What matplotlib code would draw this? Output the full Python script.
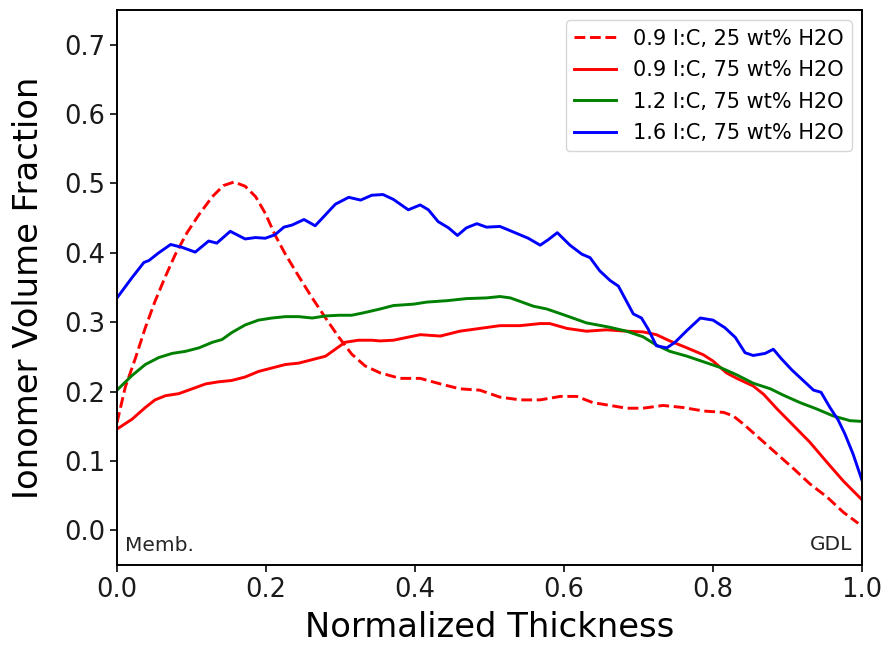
import matplotlib
matplotlib.use("Agg")
import matplotlib.pyplot as plt

# 0.9 I:C, 25 wt% H2O (dashed red)
x_r25 = [0.0, 0.011, 0.025, 0.038, 0.051, 0.065, 0.078, 0.094, 0.110, 0.128, 0.143, 0.157,
         0.172, 0.186, 0.199, 0.212, 0.226, 0.244, 0.262, 0.280, 0.298, 0.315, 0.333, 0.353,
         0.380, 0.407, 0.434, 0.460, 0.487, 0.514, 0.541, 0.568, 0.595, 0.617, 0.639, 0.662,
         0.684, 0.706, 0.733, 0.760, 0.787, 0.814, 0.827, 0.841, 0.863, 0.886, 0.908, 0.930,
         0.953, 0.975, 0.995]
y_r25 = [0.155, 0.206, 0.249, 0.292, 0.330, 0.366, 0.397, 0.429, 0.455, 0.481, 0.497, 0.502,
         0.496, 0.481, 0.457, 0.426, 0.398, 0.366, 0.335, 0.306, 0.278, 0.254, 0.237, 0.227,
         0.219, 0.219, 0.211, 0.204, 0.202, 0.192, 0.188, 0.188, 0.193, 0.193, 0.184, 0.180,
         0.176, 0.176, 0.180, 0.177, 0.172, 0.170, 0.165, 0.153, 0.132, 0.110, 0.089, 0.067,
         0.048, 0.026, 0.010]

# 0.9 I:C, 75 wt% H2O (solid red)
x_r75 = [0.0, 0.020, 0.038, 0.051, 0.065, 0.083, 0.101, 0.119, 0.136, 0.154, 0.172, 0.190,
         0.208, 0.226, 0.244, 0.262, 0.280, 0.293, 0.306, 0.324, 0.342, 0.353, 0.371, 0.389,
         0.407, 0.434, 0.460, 0.487, 0.514, 0.541, 0.568, 0.581, 0.604, 0.630, 0.657, 0.684,
         0.706, 0.724, 0.742, 0.765, 0.787, 0.800, 0.818, 0.832, 0.854, 0.868, 0.886, 0.908,
         0.930, 0.953, 0.975, 1.0]
y_r75 = [0.146, 0.160, 0.177, 0.188, 0.194, 0.197, 0.204, 0.211, 0.214, 0.216, 0.221, 0.229,
         0.234, 0.239, 0.241, 0.246, 0.251, 0.261, 0.271, 0.274, 0.274, 0.273, 0.274, 0.278,
         0.282, 0.280, 0.287, 0.291, 0.295, 0.295, 0.298, 0.298, 0.291, 0.287, 0.289, 0.287,
         0.286, 0.282, 0.273, 0.263, 0.253, 0.244, 0.227, 0.219, 0.208, 0.196, 0.175, 0.151,
         0.127, 0.098, 0.071, 0.044]

# 1.2 I:C, 75 wt% H2O (green)
x_g = [0.0, 0.020, 0.038, 0.056, 0.074, 0.092, 0.110, 0.128, 0.141, 0.154, 0.172, 0.190,
       0.208, 0.226, 0.244, 0.262, 0.280, 0.298, 0.315, 0.333, 0.353, 0.371, 0.398, 0.416,
       0.443, 0.469, 0.496, 0.514, 0.528, 0.541, 0.559, 0.577, 0.604, 0.630, 0.660, 0.684,
       0.706, 0.724, 0.742, 0.765, 0.787, 0.809, 0.832, 0.854, 0.877, 0.894, 0.917, 0.939,
       0.961, 0.984, 1.0]
y_g = [0.202, 0.223, 0.239, 0.249, 0.255, 0.258, 0.263, 0.271, 0.275, 0.285, 0.296, 0.303,
       0.306, 0.308, 0.308, 0.306, 0.309, 0.310, 0.310, 0.314, 0.319, 0.324, 0.326, 0.329,
       0.331, 0.334, 0.335, 0.337, 0.335, 0.330, 0.323, 0.319, 0.309, 0.299, 0.293, 0.287,
       0.279, 0.267, 0.258, 0.251, 0.243, 0.235, 0.224, 0.212, 0.204, 0.195, 0.184, 0.175,
       0.165, 0.158, 0.157]

# 1.6 I:C, 75 wt% H2O (blue)
x_b = [0.0, 0.020, 0.036, 0.043, 0.056, 0.072, 0.087, 0.105, 0.123, 0.134, 0.152, 0.172,
       0.186, 0.199, 0.212, 0.224, 0.235, 0.251, 0.266, 0.280, 0.293, 0.311, 0.327, 0.342,
       0.357, 0.371, 0.391, 0.407, 0.418, 0.431, 0.445, 0.457, 0.469, 0.483, 0.496, 0.514,
       0.532, 0.552, 0.568, 0.579, 0.591, 0.608, 0.624, 0.635, 0.648, 0.662, 0.673, 0.684,
       0.693, 0.704, 0.713, 0.724, 0.738, 0.749, 0.765, 0.783, 0.800, 0.816, 0.830, 0.843,
       0.854, 0.870, 0.881, 0.892, 0.906, 0.921, 0.935, 0.945, 0.957, 0.968, 0.977, 0.988,
       1.0]
y_b = [0.335, 0.364, 0.386, 0.389, 0.400, 0.412, 0.408, 0.401, 0.417, 0.414, 0.431, 0.420,
       0.422, 0.421, 0.426, 0.437, 0.440, 0.448, 0.439, 0.455, 0.470, 0.480, 0.476, 0.483,
       0.484, 0.477, 0.462, 0.469, 0.462, 0.445, 0.436, 0.425, 0.436, 0.442, 0.437, 0.438,
       0.430, 0.421, 0.411, 0.419, 0.429, 0.411, 0.398, 0.393, 0.374, 0.360, 0.352, 0.330,
       0.312, 0.306, 0.290, 0.266, 0.263, 0.271, 0.288, 0.306, 0.303, 0.292, 0.278, 0.256,
       0.252, 0.255, 0.261, 0.247, 0.231, 0.216, 0.202, 0.199, 0.177, 0.159, 0.139, 0.110,
       0.072]

labels = ["0.9 I:C, 25 wt% H2O", "0.9 I:C, 75 wt% H2O",
          "1.2 I:C, 75 wt% H2O", "1.6 I:C, 75 wt% H2O"]
xticks = [0.0, 0.2, 0.4, 0.6, 0.8, 1.0]
yticks = [0.0, 0.1, 0.2, 0.3, 0.4, 0.5, 0.6, 0.7]

fig = plt.figure(figsize=(8.83, 6.46), dpi=100)
ax = fig.add_axes([117 / 883, 1 - 565 / 646, 745 / 883, 555 / 646])

lw = 2.1
ax.plot(x_r25, y_r25, color="red", linestyle="--", lw=lw, label=labels[0])
ax.plot(x_r75, y_r75, color="red", lw=lw, label=labels[1])
ax.plot(x_g, y_g, color="green", lw=lw, label=labels[2])
ax.plot(x_b, y_b, color="blue", lw=lw, label=labels[3])

ax.set_xlim(0, 1)
ax.set_ylim(-0.05, 0.75)
ax.set_xticks(xticks)
ax.set_yticks(yticks)
ax.set_xticklabels([f"{v:.1f}" for v in xticks])
ax.set_yticklabels([f"{v:.1f}" for v in yticks])
ax.tick_params(labelsize=18.5, length=5, width=1.3, direction="out", colors="#1a1a1a")
for s in ax.spines.values():
    s.set_linewidth(1.4)

ax.set_xlabel("Normalized Thickness", fontsize=24.3, labelpad=6)
ax.set_ylabel("Ionomer Volume Fraction", fontsize=24.3, labelpad=14)

ax.text(0.011, 0.025, "Memb.", transform=ax.transAxes, fontsize=14.5,
        ha="left", va="baseline", color="#262626")
ax.text(0.987, 0.027, "GDL", transform=ax.transAxes, fontsize=14.5,
        ha="right", va="baseline", color="#262626")

leg = ax.legend(loc="upper right", fontsize=15, frameon=True, fancybox=True,
                framealpha=0.8, edgecolor="0.8", handlelength=2.0, labelspacing=0.55)

fig.savefig("out.png", dpi=100)
